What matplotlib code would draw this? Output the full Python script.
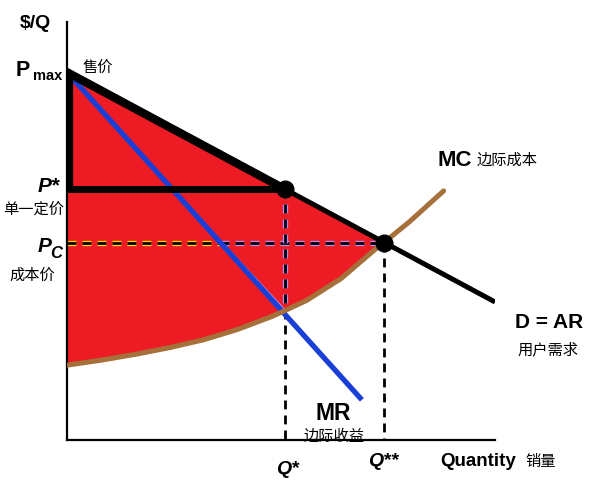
import numpy as np
import matplotlib
matplotlib.use("Agg")
from matplotlib import pyplot as plt
from matplotlib import patheffects as pe

plt.rcParams['font.family'] = ['Liberation Sans', 'Noto Sans CJK SC', 'DejaVu Sans']

# values (axis runs 0..100 on both sides)
p_max = 88.0
p_star = 60.0
p_c = 47.2
q_star = 51.0
q_2star = 74.0

demand_q = [0.0, 99.5]
demand_p = [88.0, 33.3]

mr_q = [0.0, 68.9]
mr_p = [88.0, 9.6]

mc_q = [0, 8, 16, 24, 32, 40, 48, 51, 56, 64, 72, 74, 80, 88]
mc_p = [17.9, 19.1, 20.5, 22.1, 24.0, 26.5, 29.6, 31.0, 33.4, 38.6, 45.6, 47.2, 52.2, 59.6]

red = "#ed1c24"
yellow = "#ffd800"
purple = "#b48cf0"
blue = "#1a3fd6"
brown = "#a5703a"


def demand(q):
    return np.interp(q, demand_q, demand_p)


def mr_q_at(p):
    # quantity on the MR line for a given price
    return np.interp(p, mr_p[::-1], mr_q[::-1])


fig = plt.figure(figsize=(6, 4.87), dpi=100)
ax = fig.add_axes([67 / 600, 47 / 487, 428 / 600, 418 / 487])
ax.set_xlim(0, 100)
ax.set_ylim(0, 100)
ax.spines['top'].set_visible(False)
ax.spines['right'].set_visible(False)
ax.spines['left'].set_linewidth(1.6)
ax.spines['bottom'].set_linewidth(1.6)
ax.set_xticks([])
ax.set_yticks([])

q_mr_pstar = mr_q_at(p_star)
mc_q = np.array(mc_q, dtype=float)
mc_p = np.array(mc_p, dtype=float)
mc_at_qstar = mc_p[mc_q == q_star][0]

# regions of the red area
low = mc_q <= q_star
mid = (mc_q >= q_star) & (mc_q <= q_2star)

tri_top = [(0, p_max), (0, p_star), (q_mr_pstar, p_star)]
upper_right = [(0, p_max), (q_star, p_star), (q_mr_pstar, p_star)]
lower_left = ([(0, p_star), (q_mr_pstar, p_star), (q_star, mc_at_qstar)]
              + list(zip(mc_q[low][::-1], mc_p[low][::-1])))
lower_right = ([(q_mr_pstar, p_star), (q_star, p_star), (q_2star, demand(q_2star))]
               + list(zip(mc_q[mid][::-1], mc_p[mid][::-1])))

for verts, edge in [(tri_top, yellow), (upper_right, purple),
                    (lower_left, yellow), (lower_right, purple)]:
    xs, ys = zip(*verts)
    ax.fill(xs, ys, facecolor=red, edgecolor=edge, linewidth=1.3, zorder=1)

# dashed guides
dash = (3.2, 2.2)
q_mr_pc = mr_q_at(p_c)
ax.plot([0, q_mr_pc], [p_c, p_c], color="black", lw=2, dashes=dash, zorder=2,
        path_effects=[pe.Stroke(linewidth=3.8, foreground=yellow), pe.Normal()])
ax.plot([q_mr_pc, q_2star], [p_c, p_c], color="black", lw=2, dashes=dash, zorder=2,
        path_effects=[pe.Stroke(linewidth=3.8, foreground=purple), pe.Normal()])
ax.plot([q_star, q_star], [p_star, mc_at_qstar], color="black", lw=2, dashes=dash, zorder=2,
        path_effects=[pe.Stroke(linewidth=3.8, foreground=purple), pe.Normal()])
ax.plot([q_star, q_star], [mc_at_qstar, 0], color="black", lw=2, dashes=dash, zorder=2)
ax.plot([q_2star, q_2star], [p_c, 0], color="black", lw=2, dashes=dash, zorder=2)

# curves
ax.plot(mr_q, mr_p, color=blue, lw=3.8, solid_capstyle='butt', zorder=3)
ax.plot(mc_q, mc_p, color=brown, lw=3.6, solid_capstyle='round',
        solid_joinstyle='round', zorder=3)
ax.plot(demand_q, demand_p, color="black", lw=3.6, zorder=4)
ax.plot([0, q_star], [p_max, demand(q_star)], color="black", lw=6, zorder=4)
ax.plot([0, q_star], [p_star, p_star], color="black", lw=5, solid_capstyle='butt', zorder=4)
ax.plot([0.7, 0.7], [p_max, p_star], color="black", lw=4.5, solid_capstyle='butt', zorder=4)
ax.plot([q_star, q_2star], [p_star, p_c], 'o', color="black", ms=12, zorder=5)


def label(px, py, s, size, weight="normal", style="normal", ha="center", va="center"):
    fig.text(px / 600, 1 - py / 487, s, fontsize=size, fontweight=weight,
             fontstyle=style, ha=ha, va=va)


label(35, 23, "$/Q", 14, "bold")
label(30, 71, "P", 15.5, "bold", ha="right")
label(33, 76, "max", 10.5, "bold", ha="left")
label(98, 68, "售价", 11)
label(60, 187, "P*", 15, "bold", "italic", ha="right")
label(34, 210, "单一定价", 11)
label(51, 246, "P", 15, "bold", "italic", ha="right")
label(50, 254, "C", 12, "bold", "italic", ha="left")
label(32, 276, "成本价", 11)
label(455, 161, "MC", 16, "bold")
label(507, 161, "边际成本", 11)
label(549, 322, "D = AR", 15, "bold")
label(548, 350, "用户需求", 11)
label(333, 414, "MR", 16.5, "bold")
label(334, 436, "边际收益", 11)
label(287, 469, "Q*", 14, "bold", "italic")
label(383, 462, "Q**", 14, "bold", "italic")
label(478, 461, "Quantity", 13.5, "bold")
label(541, 462, "销量", 11)

fig.savefig("out.png", dpi=100)
